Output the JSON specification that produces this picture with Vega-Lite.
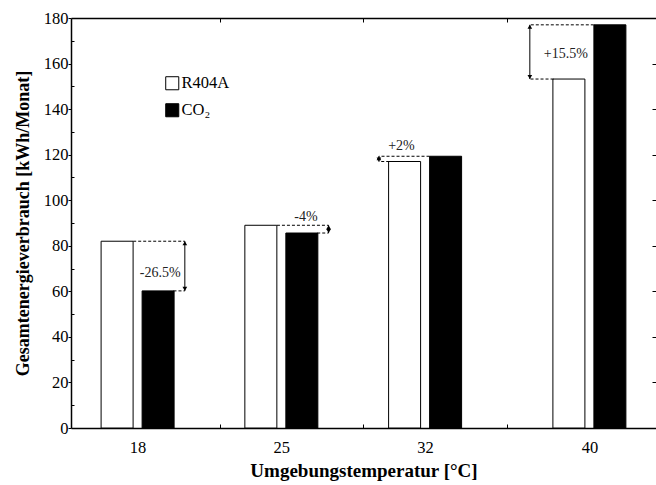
{
  "$schema": "https://vega.github.io/schema/vega-lite/v6.json",
  "width": 585,
  "height": 410,
  "autosize": "none",
  "padding": {"left": 71, "top": 18, "right": 0, "bottom": 57},
  "background": "white",
  "config": {
    "font": "Liberation Serif",
    "view": {"stroke": null},
    "style": {"guide-label": {"font": "Liberation Serif"}, "guide-title": {"font": "Liberation Serif"}},
    "axis": {
      "labelFont": "Liberation Serif",
      "titleFont": "Liberation Serif",
      "labelColor": "black",
      "titleColor": "black",
      "domainColor": "black",
      "tickColor": "black",
      "grid": false,
      "labelFontSize": 16.5,
      "titleFontSize": 18,
      "titleFontWeight": "bold",
      "domainWidth": 1.5
    }
  },
  "datasets": {
    "bars": [
      {"t": 18, "r": "R404A", "v": 82},
      {"t": 18, "r": "CO₂", "v": 60.2},
      {"t": 25, "r": "R404A", "v": 89},
      {"t": 25, "r": "CO₂", "v": 85.6},
      {"t": 32, "r": "R404A", "v": 117},
      {"t": 32, "r": "CO₂", "v": 119.3},
      {"t": 40, "r": "R404A", "v": 153.2},
      {"t": 40, "r": "CO₂", "v": 177}
    ],
    "dashes": [
      {"x": 17.785, "x2": 20.3, "y": 82},
      {"x": 19.747, "x2": 20.3, "y": 60.2},
      {"x": 24.785, "x2": 27.3, "y": 89},
      {"x": 26.747, "x2": 27.3, "y": 85.6},
      {"x": 32.215, "x2": 29.75, "y": 119.3},
      {"x": 30.253, "x2": 29.75, "y": 117},
      {"x": 40.215, "x2": 37.1, "y": 177},
      {"x": 38.253, "x2": 37.1, "y": 153.2}
    ],
    "arrows": [
      {"x": 20.3, "lo": 60.2, "hi": 82},
      {"x": 27.3, "lo": 85.6, "hi": 89},
      {"x": 29.75, "lo": 117, "hi": 119.3},
      {"x": 37.1, "lo": 153.2, "hi": 177}
    ],
    "labels": [
      {"x": 19.1, "y": 68, "text": "-26.5%"},
      {"x": 26.2, "y": 92.5, "text": "-4%"},
      {"x": 30.85, "y": 124, "text": "+2%"},
      {"x": 38.85, "y": 164, "text": "+15.5%"}
    ]
  },
  "layer": [
    {
      "data": {"name": "bars"},
      "transform": [{"filter": "datum.r == 'R404A'"}],
      "mark": {"type": "bar", "width": 32, "xOffset": -20.5, "stroke": "black", "strokeWidth": 1},
      "encoding": {
        "x": {
          "field": "t", "type": "quantitative",
          "scale": {"domain": [15, 43], "nice": false, "zero": false},
          "axis": {
            "orient": "bottom",
            "title": "Umgebungstemperatur [°C]",
            "titleFont": "Liberation Serif",
            "labelFont": "Liberation Serif",
            "titleFontSize": 19,
            "values": [18, 22, 25, 29, 32, 36, 40],
            "labelExpr": "(datum.value == 22 || datum.value == 29 || datum.value == 36) ? '' : datum.label",
            "tickSize": -4,
            "tickOpacity": {"condition": {"test": "datum.value == 22 || datum.value == 29 || datum.value == 36", "value": 1}, "value": 0},
            "labelPadding": 15,
            "titlePadding": 6
          }
        },
        "y": {
          "field": "v", "type": "quantitative",
          "scale": {"domain": [0, 180], "nice": false},
          "axis": {
            "orient": "left",
            "title": "Gesamtenergieverbrauch [kWh/Monat]",
            "titleFont": "Liberation Serif",
            "labelFont": "Liberation Serif",
            "values": [0, 10, 20, 30, 40, 50, 60, 70, 80, 90, 100, 110, 120, 130, 140, 150, 160, 170, 180],
            "labelExpr": "datum.value % 20 == 0 ? datum.label : ''",
            "tickSize": {"condition": {"test": "datum.value % 20 == 0", "value": 3}, "value": -3},
            "labelPadding": 0,
            "titlePadding": 11
          }
        },
        "fill": {
          "field": "r", "type": "nominal",
          "scale": {"domain": ["R404A", "CO₂"], "range": ["white", "black"]},
          "legend": {
            "orient": "none", "legendX": 93, "legendY": 57, "title": null,
            "symbolType": "square", "symbolSize": 170,
            "symbolStrokeColor": "black", "symbolStrokeWidth": 1,
            "labelFont": "Liberation Serif", "labelFontSize": 16.5, "labelColor": "black",
            "labelOffset": 1, "rowPadding": 9, "padding": 0
          }
        }
      }
    },
    {
      "data": {"name": "bars"},
      "transform": [{"filter": "datum.r == 'CO₂'"}],
      "mark": {"type": "bar", "width": 32, "xOffset": 20.5, "stroke": "black", "strokeWidth": 1},
      "encoding": {
        "x": {
          "field": "t", "type": "quantitative",
          "scale": {"domain": [15, 43], "nice": false, "zero": false},
          "axis": {
            "orient": "top", "title": null, "labels": false,
            "values": [22, 29, 36], "tickSize": -4
          }
        },
        "y": {
          "field": "v", "type": "quantitative",
          "scale": {"domain": [0, 180], "nice": false},
          "axis": {
            "orient": "right", "title": null, "labels": false, "domain": false,
            "values": [0, 20, 40, 60, 80, 100, 120, 140, 160, 180], "tickSize": -4
          }
        },
        "fill": {
          "field": "r", "type": "nominal",
          "scale": {"domain": ["R404A", "CO₂"], "range": ["white", "black"]}
        }
      }
    },
    {
      "data": {"name": "dashes"},
      "mark": {"type": "rule", "strokeDash": [3, 2], "strokeWidth": 1, "color": "black"},
      "encoding": {
        "x": {"field": "x", "type": "quantitative", "scale": {"domain": [15, 43], "nice": false, "zero": false}, "axis": null},
        "x2": {"field": "x2"},
        "y": {"field": "y", "type": "quantitative", "scale": {"domain": [0, 180], "nice": false}, "axis": null}
      }
    },
    {
      "data": {"name": "arrows"},
      "mark": {"type": "rule", "strokeWidth": 1, "color": "black"},
      "encoding": {
        "x": {"field": "x", "type": "quantitative", "scale": {"domain": [15, 43], "nice": false, "zero": false}, "axis": null},
        "y": {"field": "lo", "type": "quantitative", "scale": {"domain": [0, 180], "nice": false}, "axis": null},
        "y2": {"field": "hi"}
      }
    },
    {
      "data": {"name": "arrows"},
      "mark": {"type": "point", "shape": "triangle-up", "filled": true, "color": "black", "size": 22, "yOffset": 2, "opacity": 1},
      "encoding": {
        "x": {"field": "x", "type": "quantitative", "scale": {"domain": [15, 43], "nice": false, "zero": false}, "axis": null},
        "y": {"field": "hi", "type": "quantitative", "scale": {"domain": [0, 180], "nice": false}, "axis": null}
      }
    },
    {
      "data": {"name": "arrows"},
      "mark": {"type": "point", "shape": "triangle-down", "filled": true, "color": "black", "size": 22, "yOffset": -2, "opacity": 1},
      "encoding": {
        "x": {"field": "x", "type": "quantitative", "scale": {"domain": [15, 43], "nice": false, "zero": false}, "axis": null},
        "y": {"field": "lo", "type": "quantitative", "scale": {"domain": [0, 180], "nice": false}, "axis": null}
      }
    },
    {
      "data": {"name": "labels"},
      "mark": {"type": "text", "font": "Liberation Serif", "fontSize": 14, "color": "#222"},
      "encoding": {
        "x": {"field": "x", "type": "quantitative", "scale": {"domain": [15, 43], "nice": false, "zero": false}, "axis": null},
        "y": {"field": "y", "type": "quantitative", "scale": {"domain": [0, 180], "nice": false}, "axis": null},
        "text": {"field": "text"}
      }
    }
  ],
  "resolve": {"axis": {"x": "independent", "y": "independent"}}
}
